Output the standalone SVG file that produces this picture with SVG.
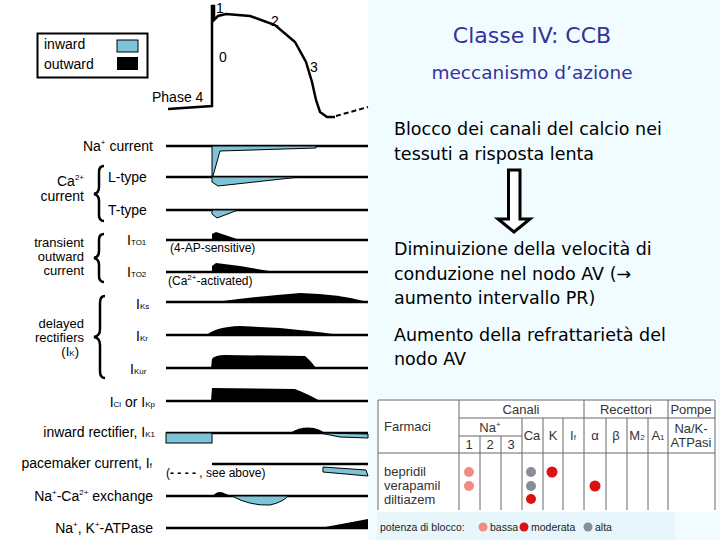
<svg xmlns="http://www.w3.org/2000/svg" width="720" height="540" viewBox="0 0 720 540">
<style>
.l{font-family:"Liberation Sans",Arial,sans-serif;font-size:14px;fill:#000}
.m{font-family:"Liberation Sans",Arial,sans-serif;font-size:13px;fill:#000}
.s{font-family:"Liberation Sans",Arial,sans-serif;font-size:12px;fill:#000}
.sub{font-size:8px}
.t{font-family:"DejaVu Sans",sans-serif;fill:#000;font-size:17.5px}
.tb{font-family:"Liberation Sans",Arial,sans-serif;font-size:13px;fill:#333}
.base{stroke:#000;stroke-width:2.5;fill:none}
.in{fill:#7ec4d8;stroke:#000;stroke-width:1}
.out{fill:#000}
.g{stroke:#666;stroke-width:1;fill:none}
.brace{fill:none;stroke:#000;stroke-width:2.5}
</style>
<rect width="720" height="540" fill="#fff"/>
<rect x="368" y="0" width="352" height="540" fill="#f0fcff"/>
<rect x="377" y="398" width="340" height="114" fill="#fff"/>
<rect x="377" y="512" width="298" height="28" fill="#e6f6fa"/>
<g id="legend">
<rect x="37.500" y="33.500" width="110" height="44" fill="none" stroke="#000" stroke-width="2"/>
<text class="l" x="44" y="49">inward</text>
<text class="l" x="44" y="69">outward</text>
<rect x="117" y="40" width="21" height="12" class="in"/>
<rect x="117" y="57" width="21" height="13" fill="#000"/>
</g>
<g id="ap">
<path d="M168,109 L212,106 L212,6 L214,6 L214,20 L218,16 L226,14 L250,16 L275,25 L295,42 L306,62 L312,82 L316,100 L320,112 L327,117 L335,117" class="base"/>
<path d="M336,116 L368,107" stroke="#000" stroke-width="2" stroke-dasharray="5,3"/>
<text class="l" x="216" y="13">1</text>
<text class="l" x="271" y="26">2</text>
<text class="l" x="219" y="62">0</text>
<text class="l" x="310" y="72">3</text>
<text class="l" x="152" y="102">Phase 4</text>
</g>
<g id="currents">
<line x1="166" y1="146" x2="368" y2="146" class="base"/>
<polygon points="212,146 316,146 316,148 220,151 213,176 212,176" class="in"/>
<text class="l" x="153" y="151" text-anchor="end">Na<tspan class="sub" dy="-6">+</tspan><tspan dy="6"> current</tspan></text>
<line x1="166" y1="177" x2="368" y2="177" class="base"/>
<polygon points="212,177 300,177 218,186 212,182" class="in"/>
<text class="l" x="108" y="182">L-type</text>
<line x1="166" y1="210" x2="368" y2="210" class="base"/>
<polygon points="212,210 238,210 217,218 212,214" class="in"/>
<text class="l" x="108" y="215">T-type</text>
<text class="l" x="84" y="186" text-anchor="end">Ca<tspan class="sub" dy="-6">2+</tspan></text>
<text class="l" x="84" y="201" text-anchor="end">current</text>
<path class="brace" d="M104,166 Q99,166 99,172 L99,187 Q99,193 94,194 Q99,195 99,201 L99,215 Q99,221 104,221"/>
<line x1="166" y1="240" x2="368" y2="240" class="base"/>
<polygon points="212,240 240,240 216,232 212,234" class="out"/>
<text class="s" x="170" y="252">(4-AP-sensitive)</text>
<text class="l" x="127" y="245">I<tspan class="sub">TO1</tspan></text>
<line x1="166" y1="272" x2="368" y2="272" class="base"/>
<polygon points="212,272 275,272 240,266 216,263 212,266" class="out"/>
<text class="s" x="168" y="285">(Ca<tspan class="sub" dy="-5">2+</tspan><tspan dy="5">-activated)</tspan></text>
<text class="l" x="127" y="277">I<tspan class="sub">TO2</tspan></text>
<text class="m" x="84" y="247" text-anchor="end">transient</text>
<text class="m" x="84" y="261" text-anchor="end">outward</text>
<text class="m" x="84" y="275" text-anchor="end">current</text>
<path class="brace" d="M104,234 Q99,234 99,240 L99,251 Q99,257 94,258 Q99,259 99,265 L99,276 Q99,282 104,282"/>
<line x1="166" y1="302" x2="368" y2="302" class="base"/>
<path d="M215,302 Q260,296 300,293 Q340,294 368,302 Z" class="out"/>
<text class="l" x="136" y="309">I<tspan class="sub">Ks</tspan></text>
<line x1="166" y1="335" x2="368" y2="335" class="base"/>
<path d="M207,335 Q215,327 240,326 L280,328 Q320,332 340,335 Z" class="out"/>
<text class="l" x="136" y="341">I<tspan class="sub">Kr</tspan></text>
<line x1="166" y1="368" x2="368" y2="368" class="base"/>
<path d="M211,368 L212,359 Q215,355 225,355 L305,356 Q310,360 316,368 Z" class="out"/>
<text class="l" x="130" y="374">I<tspan class="sub">Kur</tspan></text>
<text class="m" x="84" y="328" text-anchor="end">delayed</text>
<text class="m" x="84" y="342" text-anchor="end">rectifiers</text>
<text class="m" x="79" y="356" text-anchor="end">(I<tspan class="sub">K</tspan>)</text>
<path class="brace" d="M105,296 Q100,296 100,303 L100,329 Q100,336 94,337 Q100,338 100,345 L100,371 Q100,378 105,378"/>
<line x1="166" y1="401" x2="368" y2="401" class="base"/>
<path d="M211,401 L212,388 L295,389 Q310,395 320,401 Z" class="out"/>
<text class="l" x="155" y="407" text-anchor="end">I<tspan class="sub">Cl</tspan> or I<tspan class="sub">Kp</tspan></text>
<line x1="166" y1="433" x2="368" y2="433" class="base"/>
<rect x="166" y="433" width="46" height="10" class="in"/>
<path d="M290,433 Q305,424 320,430 L325,433 Z" class="out"/>
<polygon points="320,433 368,434 368,438 340,437" class="in"/>
<text class="l" x="155" y="437" text-anchor="end">inward rectifier, I<tspan class="sub">K1</tspan></text>
<line x1="212" y1="464" x2="368" y2="464" class="base"/>
<polygon points="323,467 366,470 368,476 323,472" class="in"/>
<text class="l" x="152" y="468" text-anchor="end">pacemaker current, I<tspan class="sub">f</tspan></text>
<text class="s" x="166" y="477">(<tspan font-weight="bold">- - - -</tspan> , see above)</text>
<line x1="166" y1="496" x2="368" y2="496" class="base"/>
<path d="M213,496 Q218,489 226,494 L232,496 Z" class="out"/>
<path d="M232,496 Q250,506 270,505 Q283,502 288,496 Z" class="in"/>
<text class="l" x="153" y="501" text-anchor="end">Na<tspan class="sub" dy="-6">+</tspan><tspan dy="6">-Ca</tspan><tspan class="sub" dy="-6">2+</tspan><tspan dy="6"> exchange</tspan></text>
<line x1="166" y1="528" x2="368" y2="528" class="base"/>
<polygon points="320,528 368,519 368,528" class="out"/>
<text class="l" x="153" y="533" text-anchor="end">Na<tspan class="sub" dy="-6">+</tspan><tspan dy="6">, K</tspan><tspan class="sub" dy="-6">+</tspan><tspan dy="6">-ATPase</tspan></text>
</g>
<g id="text">
<text x="532" y="43" text-anchor="middle" font-family="DejaVu Sans,sans-serif" font-size="22" fill="#333399">Classe IV: CCB</text>
<text x="532" y="79" text-anchor="middle" font-family="DejaVu Sans,sans-serif" font-size="18.5" fill="#333399">meccanismo d’azione</text>
<text class="t" x="394" y="135">Blocco dei canali del calcio nei</text>
<text class="t" x="394" y="160">tessuti a risposta lenta</text>
<text class="t" x="394" y="255">Diminuizione della velocità di</text>
<text class="t" x="394" y="280">conduzione nel nodo AV (→</text>
<text class="t" x="394" y="304">aumento intervallo PR)</text>
<text class="t" x="394" y="341">Aumento della refrattarietà del</text>
<text class="t" x="394" y="365">nodo AV</text>
</g>
<g id="arrow">
<path d="M508.500,170 L520,170 L520,219 L530,219 L514,232 L498,219 L508.500,219 Z" fill="#fff" stroke="#000" stroke-width="3"/>
</g>
<g id="table">
<line x1="378" y1="400" x2="715" y2="400" class="g"/>
<line x1="459" y1="418" x2="715" y2="418" class="g"/>
<line x1="459" y1="436" x2="522" y2="436" class="g"/>
<line x1="378" y1="453" x2="715" y2="453" class="g"/>
<line x1="378" y1="400" x2="378" y2="510" class="g"/>
<line x1="459" y1="400" x2="459" y2="510" class="g"/>
<line x1="480" y1="436" x2="480" y2="510" class="g"/>
<line x1="501" y1="436" x2="501" y2="510" class="g"/>
<line x1="522" y1="418" x2="522" y2="510" class="g"/>
<line x1="543" y1="418" x2="543" y2="510" class="g"/>
<line x1="563" y1="418" x2="563" y2="510" class="g"/>
<line x1="584" y1="400" x2="584" y2="510" class="g"/>
<line x1="606" y1="418" x2="606" y2="510" class="g"/>
<line x1="627" y1="418" x2="627" y2="510" class="g"/>
<line x1="648" y1="418" x2="648" y2="510" class="g"/>
<line x1="668" y1="400" x2="668" y2="510" class="g"/>
<line x1="715" y1="400" x2="715" y2="510" class="g"/>
<text class="tb" x="521" y="414" text-anchor="middle">Canali</text>
<text class="tb" x="626" y="414" text-anchor="middle">Recettori</text>
<text class="tb" x="691" y="414" text-anchor="middle">Pompe</text>
<text class="tb" x="384" y="431">Farmaci</text>
<text class="tb" x="490" y="432" text-anchor="middle">Na<tspan font-size="8" dy="-5">+</tspan></text>
<text class="tb" x="469" y="449" text-anchor="middle">1</text>
<text class="tb" x="490" y="449" text-anchor="middle">2</text>
<text class="tb" x="511" y="449" text-anchor="middle">3</text>
<text class="tb" x="532" y="440" text-anchor="middle">Ca</text>
<text class="tb" x="553" y="440" text-anchor="middle">K</text>
<text class="tb" x="573" y="440" text-anchor="middle">I<tspan font-size="8">f</tspan></text>
<text class="tb" x="595" y="440" text-anchor="middle">α</text>
<text class="tb" x="616" y="440" text-anchor="middle">β</text>
<text class="tb" x="637" y="440" text-anchor="middle">M<tspan font-size="8">2</tspan></text>
<text class="tb" x="658" y="440" text-anchor="middle">A<tspan font-size="8">1</tspan></text>
<text class="tb" x="691" y="433" text-anchor="middle">Na/K-</text>
<text class="tb" x="691" y="447" text-anchor="middle">ATPasi</text>
<text class="tb" x="384" y="476" font-size="11.500">bepridil</text>
<text class="tb" x="384" y="490" font-size="11.500">verapamil</text>
<text class="tb" x="384" y="504" font-size="11.500">diltiazem</text>
<circle cx="469" cy="472" r="5" fill="#f08c80"/>
<circle cx="469" cy="486" r="5" fill="#f08c80"/>
<circle cx="531" cy="472" r="5" fill="#8a8c96"/>
<circle cx="531" cy="486" r="5" fill="#8a8c96"/>
<circle cx="531" cy="499" r="5" fill="#dd1111"/>
<circle cx="552" cy="472" r="5.500" fill="#dd1111"/>
<circle cx="595" cy="486" r="5.500" fill="#dd1111"/>
<text x="380" y="531" font-family="Liberation Sans,Arial,sans-serif" font-size="10.500" fill="#222">potenza di blocco:</text>
<circle cx="483" cy="527" r="4.500" fill="#f08c80"/>
<text x="490" y="531" font-family="Liberation Sans,Arial,sans-serif" font-size="10.500" fill="#222">bassa</text>
<circle cx="524" cy="527" r="4.500" fill="#dd1111"/>
<text x="531" y="531" font-family="Liberation Sans,Arial,sans-serif" font-size="10.500" fill="#222">moderata</text>
<circle cx="588" cy="527" r="4.500" fill="#8a8c96"/>
<text x="595" y="531" font-family="Liberation Sans,Arial,sans-serif" font-size="10.500" fill="#222">alta</text>
</g>
</svg>
